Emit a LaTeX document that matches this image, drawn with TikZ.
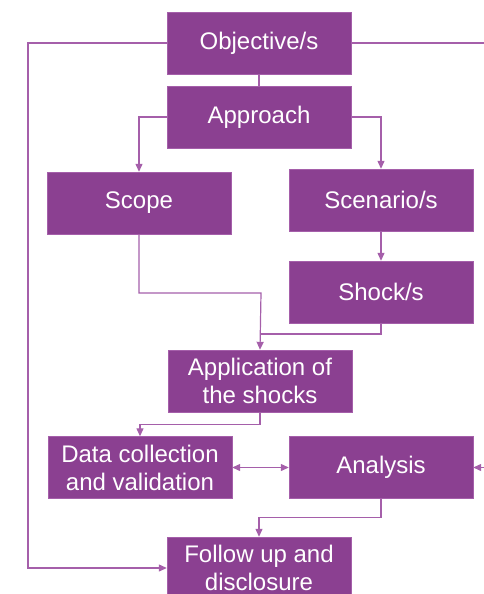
\documentclass[tikz,border=0pt]{standalone}
\usepackage{fontspec}
\setmainfont{Liberation Sans}
\usetikzlibrary{arrows.meta}
\definecolor{boxpurple}{RGB}{139,64,145}
\definecolor{linepurple}{RGB}{165,95,170}
\tikzset{
  stage/.style={draw=linepurple, fill=boxpurple, text=white, minimum width=184pt,
    minimum height=62pt, inner sep=0pt, align=center, font=\fontsize{24}{28}\selectfont},
  link/.style={draw=linepurple, line width=1.2pt},
  flow/.style={link, -{Triangle[length=8pt,width=7pt]}},
}
\begin{document}
\begin{tikzpicture}[x=1pt,y=-1pt]
  \useasboundingbox (0,0) rectangle (484,594);
  \clip (0,0) rectangle (484,594);
  % boxes
  \node[stage] (obj)   at (259,43)    {Objective/s};
  \node[stage] (app)   at (259,117)   {Approach};
  \node[stage] (scope) at (139,203)   {Scope};
  \node[stage] (scen)  at (381,200)   {Scenario/s};
  \node[stage] (shock) at (381,292)   {Shock/s};
  \node[stage] (appl)  at (260,381)   {Application of\\the shocks};
  \node[stage] (data)  at (140,467.5) {Data collection\\and validation};
  \node[stage] (ana)   at (381,467.5) {Analysis};
  \node[stage] (fol)   at (259,568)   {Follow up and\\disclosure};
  \coordinate (j1) at (261,293);
  \coordinate (j2) at (261,334);
  \coordinate (lft) at (28,568);
  \coordinate (rgt) at (494,43);
  % connectors
  \draw[link] (obj) -- (app);
  \draw[flow] (app.west) -| (scope.north);
  \draw[flow] (app.east) -| (scen.north);
  \draw[flow] (scen) -- (shock);
  \draw[flow] (scope.south) |- (j1) -- (appl.north);
  \draw[link] (shock.south) |- (j2);
  \draw[flow] (appl.south) -- ++(0,12) -| (data.north);
  \draw[flow,{Triangle[length=8pt,width=7pt]}-{Triangle[length=8pt,width=7pt]}] (data.east) -- (ana.west);
  \draw[flow] (obj.east) -| (rgt) |- (ana.east);
  \draw[flow] (ana.south) -- ++(0,19) -| (fol.north);
  \draw[flow] (obj.west) -| (lft) -- (fol.west);
\end{tikzpicture}
\end{document}
